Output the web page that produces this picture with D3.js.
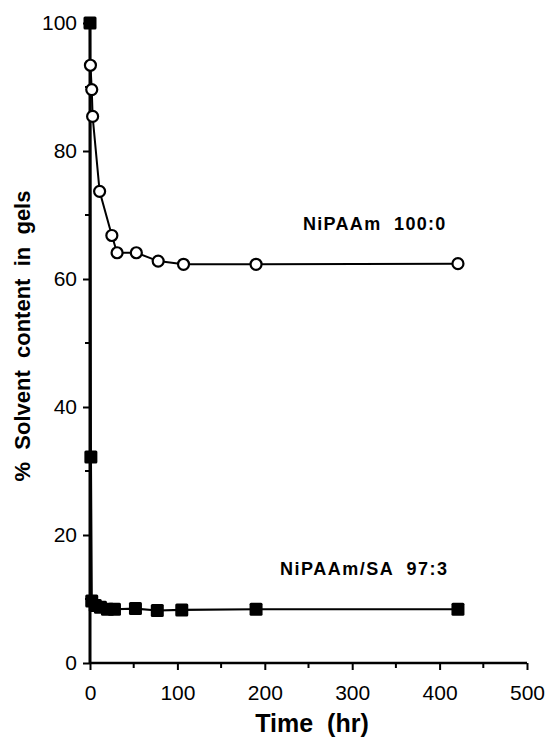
<!DOCTYPE html>
<html>
<head>
<meta charset="utf-8">
<script src="https://cdn.jsdelivr.net/npm/d3@7"></script>
<style>
  body { margin: 0; background: #fff; }
  text { font-family: "Liberation Sans", Arial, sans-serif; fill: #000; }
</style>
</head>
<body>
<div id="chart"></div>
<script>
// NIPAAm 100:0 (open circles)
const homoTime = [0.5, 2, 3, 11, 25, 31, 53, 78, 107, 190, 421];
const homoSolvent = [93.4, 89.6, 85.4, 73.7, 66.8, 64.1, 64.1, 62.8, 62.3, 62.3, 62.4];

// NIPAAm/SA 97:3 (filled squares)
const copoTime = [0, 1, 2, 6, 12, 20, 28, 52, 77, 105, 190, 421];
const copoSolvent = [100, 32.2, 9.7, 9.0, 8.7, 8.4, 8.4, 8.5, 8.2, 8.3, 8.4, 8.4];

const xTicks = [0, 100, 200, 300, 400, 500];
const xMinor = [50, 150, 250, 350, 450];
const yTicks = [0, 20, 40, 60, 80, 100];
const yMinor = [10, 30, 50, 70, 90];

const homo = homoTime.map((t, i) => ({ t: t, v: homoSolvent[i] }));
const copo = copoTime.map((t, i) => ({ t: t, v: copoSolvent[i] }));

const W = 549, H = 739;
const margin = { top: 23, right: 22, bottom: 76, left: 90 },
      width = W - margin.left - margin.right,
      height = H - margin.top - margin.bottom;

const svg = d3.select("#chart").append("svg")
  .attr("width", W)
  .attr("height", H);

const g = svg.append("g")
  .attr("transform", `translate(${margin.left},${margin.top})`);

const x = d3.scaleLinear().domain([0, 500]).range([0, width]);
const y = d3.scaleLinear().domain([0, 100]).range([height, 0]);

// axes
const xAxis = g.append("g")
  .attr("transform", `translate(0,${height})`)
  .call(d3.axisBottom(x).tickValues(xTicks).tickSize(7).tickPadding(15));
xAxis.append("g").selectAll("line")
  .data(xMinor).join("line")
  .attr("x1", d => x(d)).attr("x2", d => x(d))
  .attr("y1", 0).attr("y2", 5)
  .attr("stroke", "#000").attr("stroke-width", 2);

const yAxis = g.append("g")
  .call(d3.axisLeft(y).tickValues(yTicks).tickSize(7).tickPadding(6));
yAxis.append("g").selectAll("line")
  .data(yMinor).join("line")
  .attr("y1", d => y(d)).attr("y2", d => y(d))
  .attr("x1", 0).attr("x2", -5)
  .attr("stroke", "#000").attr("stroke-width", 2);

[xAxis, yAxis].forEach(a => {
  a.select(".domain").remove();
  a.selectAll(".tick line").attr("stroke-width", 2);
  a.selectAll(".tick text")
    .style("font-family", "'Liberation Sans', Arial, sans-serif")
    .style("font-size", "21px");
});
g.append("line")
  .attr("x1", 0).attr("x2", width)
  .attr("y1", height).attr("y2", height)
  .attr("stroke", "#000").attr("stroke-width", 2.5);
g.append("line")
  .attr("x1", 0).attr("x2", 0)
  .attr("y1", 0).attr("y2", height)
  .attr("stroke", "#000").attr("stroke-width", 3);

const line = d3.line().x(d => x(d.t)).y(d => y(d.v));

// square series
g.append("path")
  .datum(copo)
  .attr("fill", "none")
  .attr("stroke", "#000")
  .attr("stroke-width", 2.2)
  .attr("d", line);

g.selectAll(".sq")
  .data(copo).join("rect")
  .attr("class", "sq")
  .attr("x", d => x(d.t) - 6.5)
  .attr("y", d => y(d.v) - 6.5)
  .attr("width", 13)
  .attr("height", 13)
  .attr("rx", 1.5)
  .attr("fill", "#000");

// circle series
g.append("path")
  .datum(homo)
  .attr("fill", "none")
  .attr("stroke", "#000")
  .attr("stroke-width", 2)
  .attr("d", line);

g.selectAll(".ci")
  .data(homo).join("circle")
  .attr("class", "ci")
  .attr("cx", d => x(d.t))
  .attr("cy", d => y(d.v))
  .attr("r", 5.5)
  .attr("fill", "#fff")
  .attr("stroke", "#000")
  .attr("stroke-width", 2.2);

// series labels
g.append("text")
  .attr("x", 213).attr("y", 206.5)
  .style("font-size", "18px").style("font-weight", "bold")
  .style("letter-spacing", "1.3px")
  .attr("xml:space", "preserve")
  .text("NiPAAm  100:0");

g.append("text")
  .attr("x", 190).attr("y", 551.5)
  .style("font-size", "18px").style("font-weight", "bold")
  .style("letter-spacing", "1.5px")
  .attr("xml:space", "preserve")
  .text("NiPAAm/SA  97:3");

// axis titles
svg.append("text")
  .attr("x", 312).attr("y", 732)
  .attr("text-anchor", "middle")
  .style("font-size", "25px").style("font-weight", "bold")
  .attr("xml:space", "preserve")
  .text("Time  (hr)");

svg.append("text")
  .attr("transform", "translate(30,336) rotate(-90)")
  .attr("text-anchor", "middle")
  .style("font-size", "22px").style("font-weight", "bold")
  .attr("xml:space", "preserve")
  .text("%  Solvent  content  in  gels");
</script>
</body>
</html>
